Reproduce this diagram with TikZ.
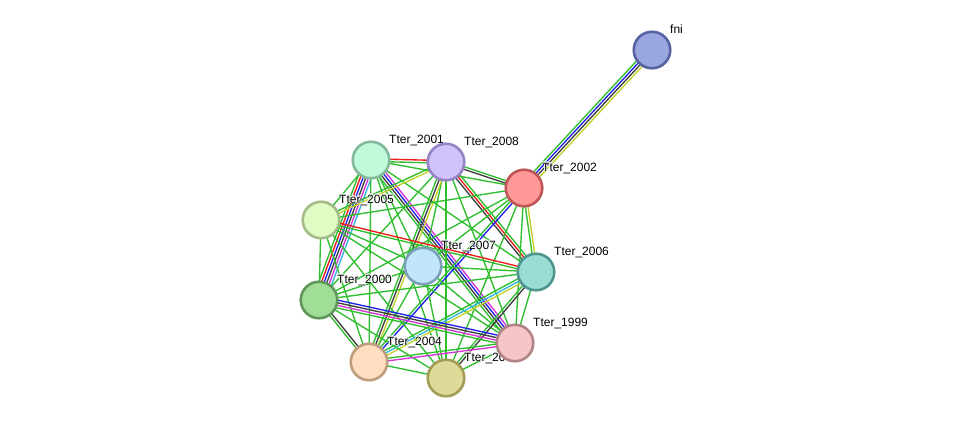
\documentclass[tikz,border=0pt]{standalone}
\usepackage{fontspec}
\setmainfont{Liberation Sans}
\usetikzlibrary{calc}
\pgfdeclarelayer{bgw}
\pgfdeclarelayer{edges}
\pgfdeclarelayer{labels}
\pgfsetlayers{bgw,edges,labels,main}
\definecolor{eg}{HTML}{2EBE2E}
\definecolor{ered}{HTML}{F01A1A}
\definecolor{eblue}{HTML}{2222F0}
\definecolor{eblack}{HTML}{404040}
\definecolor{emag}{HTML}{D435D4}
\definecolor{ecyan}{HTML}{33B5E0}
\definecolor{eyel}{HTML}{C2D22A}
\tikzset{
  prot/.style={circle, inner sep=0pt, minimum size=36.5pt, line width=2.6pt},
  edge/.style={line width=1.35pt},
  lbl/.style={anchor=base west, inner sep=0pt, font=\fontsize{12}{14}\selectfont},
}
\newcommand\bund[4]{%
  \foreach \col [count=\i] in {#4}{%
    \pgfmathsetmacro\off{(\i-(#3+1)/2)*2.6}%
    \draw[edge,\col] ($(#1.center)!\off pt!90:(#2.center)$) -- ($(#2.center)!\off pt!-90:(#1.center)$);}}
\newcommand\lab[3]{%
  \foreach \dx/\dy in {0.8/0,-0.8/0,0/0.8,0/-0.8,0.6/0.6,-0.6/0.6,0.6/-0.6,-0.6/-0.6}{%
    \node[lbl,text=white] at ($(#1.center)+(18+\dx,-17+\dy)$) {#3};}
  \node[lbl] (#2) at ($(#1.center)+(18,-17)$) {#3};}
\begin{document}
\begin{tikzpicture}[x=1pt,y=-1pt]
\useasboundingbox (0,0) rectangle (976,423);
\begin{pgfonlayer}{bgw}
\fill[white] (0,0) rectangle (976,423);
\end{pgfonlayer}
% nodes
\node[prot, fill={rgb,255:red,153;green,166;blue,224}, draw={rgb,255:red,86;green,98;blue,162}] (fni) at (652,50) {};
\node[prot, fill={rgb,255:red,193;green,249;blue,219}, draw={rgb,255:red,132;green,186;blue,156}] (a) at (371,160) {};
\node[prot, fill={rgb,255:red,210;green,194;blue,250}, draw={rgb,255:red,149;green,131;blue,198}] (b) at (446,162) {};
\node[prot, fill={rgb,255:red,255;green,152;blue,152}, draw={rgb,255:red,191;green,86;blue,86}] (c) at (524,188) {};
\node[prot, fill={rgb,255:red,224;green,251;blue,195}, draw={rgb,255:red,163;green,187;blue,134}] (d) at (321,220) {};
\node[prot, fill={rgb,255:red,193;green,230;blue,250}, draw={rgb,255:red,123;green,161;blue,186}] (e) at (423,266) {};
\node[prot, fill={rgb,255:red,153;green,221;blue,213}, draw={rgb,255:red,79;green,149;blue,143}] (f) at (536,272) {};
\node[prot, fill={rgb,255:red,160;green,222;blue,152}, draw={rgb,255:red,95;green,152;blue,90}] (g) at (319,300) {};
\node[prot, fill={rgb,255:red,245;green,197;blue,199}, draw={rgb,255:red,179;green,132;blue,133}] (h) at (515,343) {};
\node[prot, fill={rgb,255:red,255;green,221;blue,192}, draw={rgb,255:red,189;green,157;blue,123}] (i) at (369,362) {};
\node[prot, fill={rgb,255:red,222;green,218;blue,152}, draw={rgb,255:red,161;green,156;blue,86}] (j) at (446,378) {};
% labels
\begin{pgfonlayer}{labels}
\lab{fni}{lfni}{fni}
\lab{a}{la}{Tter\_2001}
\lab{b}{lb}{Tter\_2008}
\lab{c}{lc}{Tter\_2002}
\lab{d}{ld}{Tter\_2005}
\lab{e}{le}{Tter\_2007}
\lab{f}{lf}{Tter\_2006}
\lab{g}{lg}{Tter\_2000}
\lab{h}{lh}{Tter\_1999}
\lab{i}{li}{Tter\_2004}
\lab{j}{lj}{Tter\_2003}
\end{pgfonlayer}
% edges
\begin{pgfonlayer}{edges}
\bund{fni}{c}{4}{eg,eblue,eblack,eyel}
\bund{a}{b}{2}{eg,ered}
\bund{a}{c}{1}{eg}
\bund{a}{d}{1}{eg}
\bund{a}{e}{1}{eg}
\bund{a}{f}{1}{eg}
\bund{a}{g}{6}{eg,ered,eblue,eblack,emag,ecyan}
\bund{a}{h}{4}{eg,eblack,eblue,emag}
\bund{a}{i}{1}{eg}
\bund{a}{j}{1}{eg}
\bund{b}{c}{2}{eblack,eg}
\bund{b}{d}{2}{eg,eyel}
\bund{b}{e}{1}{eg}
\bund{b}{f}{3}{eblack,ered,eg}
\bund{b}{g}{1}{eg}
\bund{b}{h}{1}{eg}
\bund{b}{i}{3}{eg,eblack,eyel}
\bund{b}{j}{1}{eg}
\bund{c}{d}{1}{eg}
\bund{c}{e}{1}{eg}
\bund{c}{f}{2}{eg,eyel}
\bund{c}{g}{1}{eg}
\bund{c}{h}{1}{eg}
\bund{c}{i}{2}{eg,eblue}
\bund{c}{j}{1}{eg}
\bund{d}{e}{1}{eg}
\bund{d}{f}{2}{eg,ered}
\bund{d}{g}{1}{eg}
\bund{d}{h}{1}{eg}
\bund{d}{i}{1}{eg}
\bund{d}{j}{1}{eg}
\bund{e}{f}{1}{eg}
\bund{e}{g}{1}{eg}
\bund{e}{h}{1}{eg}
\bund{e}{i}{1}{eg}
\bund{e}{j}{1}{eg}
\bund{f}{g}{1}{eg}
\bund{f}{h}{1}{eg}
\bund{f}{i}{3}{eg,ecyan,eyel}
\bund{f}{j}{2}{eg,eblack}
\bund{g}{h}{4}{eg,emag,eblack,eblue}
\bund{g}{i}{2}{eg,eblack}
\bund{g}{j}{1}{eg}
\bund{h}{i}{2}{eg,emag}
\bund{h}{j}{1}{eg}
\bund{i}{j}{1}{eg}
\end{pgfonlayer}
\end{tikzpicture}
\end{document}
